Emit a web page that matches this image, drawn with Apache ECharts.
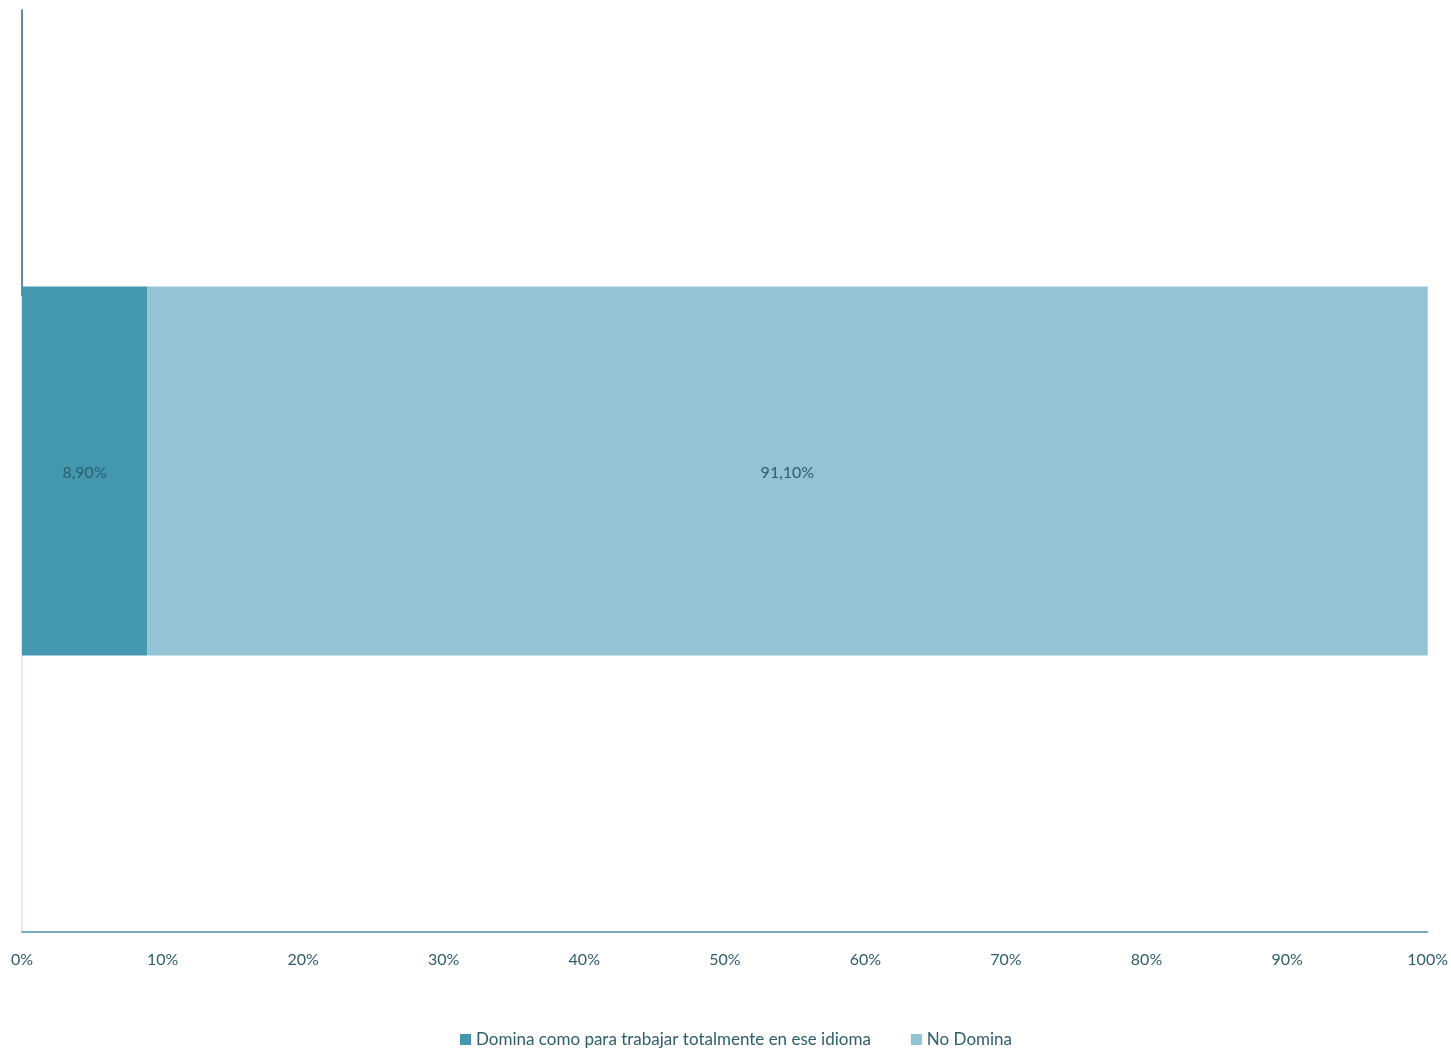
<!DOCTYPE html>
<html><head><meta charset="utf-8">
<script src="https://cdn.jsdelivr.net/npm/echarts@6/dist/echarts.min.js"></script>
<style>html,body{margin:0;padding:0;background:#fff}#c{width:1451px;height:1050px}</style>
</head><body><div id="c"></div>
<script>
const categories = [''];
const seriesNames = ['Domina como para trabajar totalmente en ese idioma', 'No Domina'];
const domina = [8.9];
const noDomina = [91.1];
const labels = ['8,90%', '91,10%'];
const chart = echarts.init(document.getElementById('c'));
const txt = '#2f5e6c';
const font = 'Lato';
chart.setOption({
  animation: false,
  textStyle: {fontFamily: font},
  grid: {left: 22, right: 23, top: 10, bottom: 118},
  legend: {
    bottom: -3, left: 455, itemWidth: 11, itemHeight: 11, itemGap: 40, icon: 'rect',
    textStyle: {fontFamily: font, fontSize: 17, color: txt}
  },
  xAxis: {
    type: 'value', min: 0, max: 100, interval: 10,
    axisLabel: {formatter: '{value}%', fontFamily: font, fontSize: 16, color: txt, margin: 20},
    axisLine: {show: true, lineStyle: {color: '#4a91b0', width: 1.5}},
    axisTick: {show: false}, splitLine: {show: false}
  },
  yAxis: {
    type: 'category', data: categories,
    axisLine: {show: true, lineStyle: {width: 1.5, color: new echarts.graphic.LinearGradient(0, 10, 0, 932, [
      {offset: 0, color: '#2b6a80'}, {offset: 0.31, color: '#2b6a80'},
      {offset: 0.31, color: '#d6e2f2'}, {offset: 1, color: '#d6e2f2'}], true)}},
    axisTick: {show: false}, axisLabel: {show: false}
  },
  series: [
    {name: seriesNames[0], type: 'bar', stack: 's', data: domina, barWidth: '40%',
     itemStyle: {color: '#4397ae'},
     label: {show: true, position: 'inside', offset: [0, 2], formatter: () => labels[0], fontFamily: font, fontSize: 16, color: txt}},
    {name: seriesNames[1], type: 'bar', stack: 's', data: noDomina, barWidth: '40%',
     itemStyle: {color: '#93c3d4'},
     label: {show: true, position: 'inside', offset: [0, 2], formatter: () => labels[1], fontFamily: font, fontSize: 16, color: txt}}
  ]
});
</script></body></html>
